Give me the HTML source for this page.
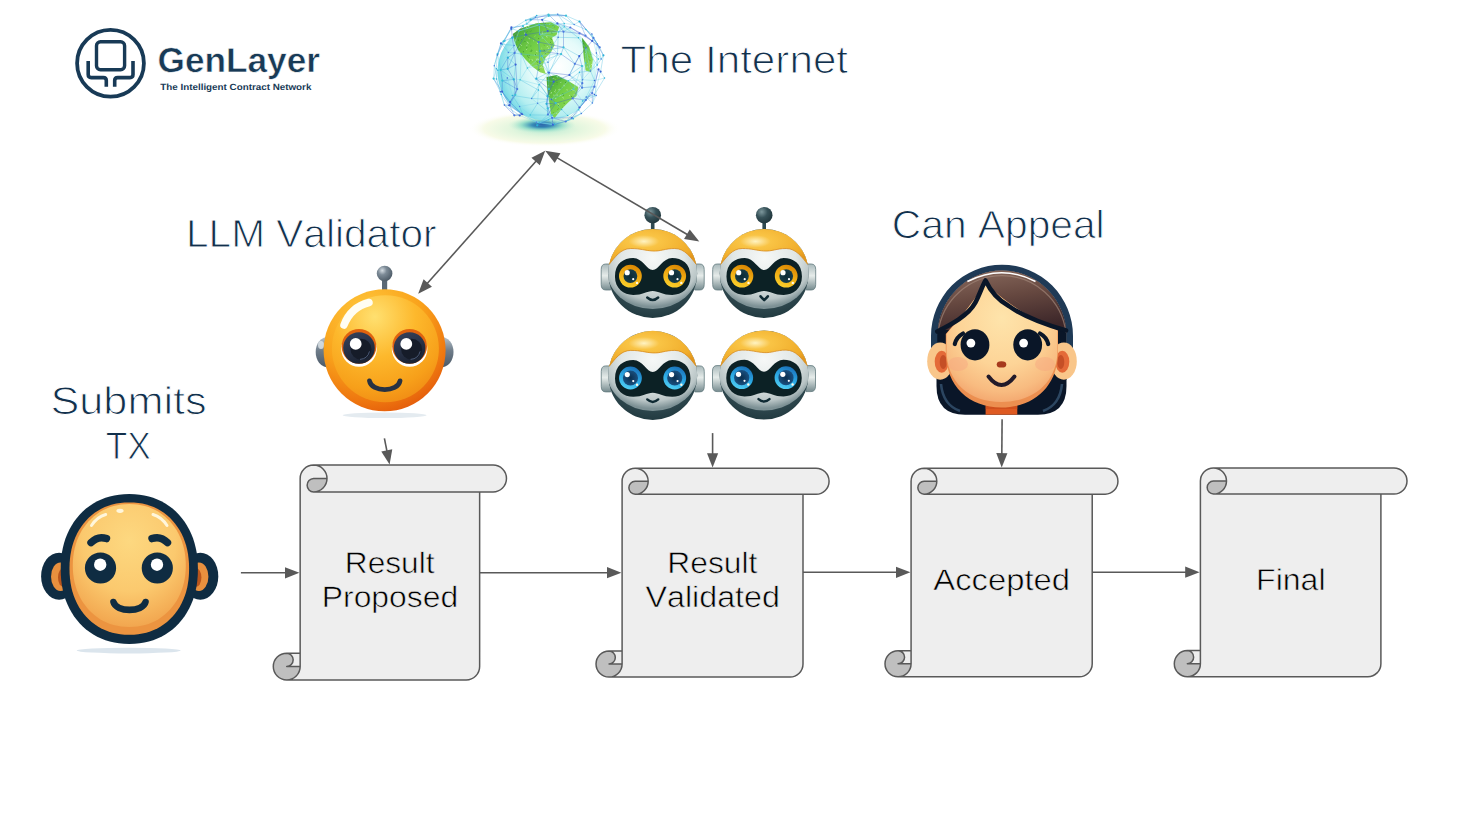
<!DOCTYPE html>
<html><head><meta charset="utf-8"><style>
html,body{margin:0;padding:0;background:#fff;width:1465px;height:824px;overflow:hidden}
svg{display:block}
text{font-family:"Liberation Sans",sans-serif;font-kerning:none;text-rendering:geometricPrecision}
</style></head><body>
<svg width="1465" height="824" viewBox="0 0 1465 824">
<defs>
<radialGradient id="llmOuter" cx="0.35" cy="0.2" r="0.9">
  <stop offset="0" stop-color="#ffc83c"/><stop offset="0.5" stop-color="#f9a21b"/><stop offset="0.8" stop-color="#ee760f"/><stop offset="1" stop-color="#e0520a"/>
</radialGradient>
<radialGradient id="llmInner" cx="0.4" cy="0.2" r="0.85">
  <stop offset="0" stop-color="#ffe070"/><stop offset="0.45" stop-color="#fdb82c"/><stop offset="0.8" stop-color="#f7a01a"/><stop offset="1" stop-color="#f08a14"/>
</radialGradient>
<linearGradient id="llmPupil" x1="0.3" y1="0" x2="0.7" y2="1">
  <stop offset="0" stop-color="#34405a"/><stop offset="1" stop-color="#1a2130"/>
</linearGradient>
<linearGradient id="gray" x1="0" y1="0" x2="0" y2="1">
  <stop offset="0" stop-color="#b9c4cd"/><stop offset="0.45" stop-color="#6f7d8a"/><stop offset="1" stop-color="#4a5866"/>
</linearGradient>
<radialGradient id="ballG" cx="0.35" cy="0.3" r="0.7">
  <stop offset="0" stop-color="#d5dde3"/><stop offset="0.4" stop-color="#7d8b97"/><stop offset="1" stop-color="#4f5d69"/>
</radialGradient>
<radialGradient id="tealBall" cx="0.35" cy="0.3" r="0.7">
  <stop offset="0" stop-color="#7d979c"/><stop offset="0.5" stop-color="#365158"/><stop offset="1" stop-color="#22383e"/>
</radialGradient>
<clipPath id="headClip"><circle cx="0" cy="0" r="44.5"/></clipPath>
<radialGradient id="vHead" cx="0.5" cy="0.3" r="0.75">
  <stop offset="0" stop-color="#6c8289"/><stop offset="0.6" stop-color="#3b555c"/><stop offset="1" stop-color="#1d353b"/>
</radialGradient>
<radialGradient id="vPlate" cx="0.5" cy="0.35" r="0.62">
  <stop offset="0" stop-color="#f6f8f7"/><stop offset="0.55" stop-color="#e1e7e6"/><stop offset="0.85" stop-color="#b9c5c6"/><stop offset="1" stop-color="#7d9195"/>
</radialGradient>
<radialGradient id="vCap" cx="0.4" cy="0.35" r="0.7">
  <stop offset="0" stop-color="#fff3c2"/><stop offset="0.25" stop-color="#f9c445"/><stop offset="0.8" stop-color="#f0ac2a"/><stop offset="1" stop-color="#e2961d"/>
</radialGradient>
<linearGradient id="vEar" x1="0" y1="0" x2="0" y2="1">
  <stop offset="0" stop-color="#a9b9bb"/><stop offset="0.45" stop-color="#e6ecea"/><stop offset="1" stop-color="#768b8f"/>
</linearGradient>
<linearGradient id="eyeY" x1="0.7" y1="0" x2="0.3" y2="1">
  <stop offset="0" stop-color="#d88400"/><stop offset="0.5" stop-color="#f1ad14"/><stop offset="1" stop-color="#fbd12c"/>
</linearGradient>
<linearGradient id="eyeB" x1="0.7" y1="0" x2="0.3" y2="1">
  <stop offset="0" stop-color="#1a6fb8"/><stop offset="0.5" stop-color="#2aa6e2"/><stop offset="1" stop-color="#52d0f4"/>
</linearGradient>
<radialGradient id="pupilY" cx="0.5" cy="0.5" r="0.5">
  <stop offset="0" stop-color="#0c2a36"/><stop offset="1" stop-color="#173c48"/>
</radialGradient>
<radialGradient id="pupilB" cx="0.5" cy="0.5" r="0.5">
  <stop offset="0" stop-color="#0b2f4f"/><stop offset="1" stop-color="#1a5080"/>
</radialGradient>
<radialGradient id="userSkin" cx="0.5" cy="0.3" r="0.75">
  <stop offset="0" stop-color="#fdd880"/><stop offset="0.55" stop-color="#fbc96e"/><stop offset="0.85" stop-color="#f4ae56"/><stop offset="1" stop-color="#f0a04a"/>
</radialGradient>
<radialGradient id="girlSkin" cx="0.5" cy="0.3" r="0.72">
  <stop offset="0" stop-color="#fee4ab"/><stop offset="0.55" stop-color="#fdd497"/><stop offset="0.85" stop-color="#f8bb80"/><stop offset="1" stop-color="#f3a66e"/>
</radialGradient>
<linearGradient id="girlHair" x1="0" y1="0" x2="0.3" y2="1">
  <stop offset="0" stop-color="#8c6d60"/><stop offset="0.5" stop-color="#664840"/><stop offset="1" stop-color="#3c2629"/>
</linearGradient>
<radialGradient id="girlEar" cx="0.5" cy="0.5" r="0.5">
  <stop offset="0" stop-color="#e26f3c"/><stop offset="0.55" stop-color="#f0a066"/><stop offset="1" stop-color="#f9c98a"/>
</radialGradient>
<radialGradient id="globeG" cx="0.62" cy="0.45" r="0.62">
  <stop offset="0" stop-color="#ffffff"/><stop offset="0.45" stop-color="#e6fbfa"/><stop offset="0.8" stop-color="#b4eef0"/><stop offset="1" stop-color="#74d9e6"/>
</radialGradient>
<radialGradient id="glow" cx="0.5" cy="0.5" r="0.5">
  <stop offset="0" stop-color="#b8ead2"/><stop offset="0.45" stop-color="#e3f6de"/><stop offset="0.8" stop-color="#f8fbe8"/><stop offset="1" stop-color="#ffffff" stop-opacity="0"/>
</radialGradient>
<radialGradient id="glowCore" cx="0.5" cy="0.5" r="0.5">
  <stop offset="0" stop-color="#24509e"/><stop offset="0.3" stop-color="#3a8fb8"/><stop offset="0.6" stop-color="#86d9c6" stop-opacity="0.8"/><stop offset="1" stop-color="#c8f0d8" stop-opacity="0"/>
</radialGradient>
<linearGradient id="landG" x1="0" y1="0" x2="1" y2="1">
  <stop offset="0" stop-color="#3f9f32"/><stop offset="0.45" stop-color="#74cf48"/><stop offset="1" stop-color="#a0e060"/>
</linearGradient>
</defs><ellipse cx="544.6" cy="128.8" rx="76" ry="18" fill="url(#glow)"/><ellipse cx="542" cy="125" rx="34" ry="8.5" fill="url(#glowCore)"/><circle cx="546.5" cy="71.5" r="49" fill="url(#globeG)"/><g fill="url(#landG)"><path d="M512.8,34.1 L520,28.7 L536.4,23.2 L551,22.3 L559.2,26.8 L556.5,35 L552,37.8 L554.6,45 L551,52.3 L545.5,57.8 L542.8,65 L545.5,73.3 L549.2,75.1 L540.1,72.3 L532.8,66.9 L525.5,59.6 L518.2,50.5 L514.6,41.4 Z"/><path d="M546.5,76.9 L556.5,75.1 L569.2,81.4 L578.3,86.9 L576.5,96 L569.2,101.5 L561.9,108.7 L554.6,117.9 L551,114.2 L549.2,101.5 L547.4,90.5 Z"/><path d="M582,37.8 L589.2,46.9 L592.9,59.6 L591,72.3 L585.6,70.5 L583.8,57.8 Z"/></g><defs><clipPath id="landClip"><path d="M512.8,34.1 L520,28.7 L536.4,23.2 L551,22.3 L559.2,26.8 L556.5,35 L552,37.8 L554.6,45 L551,52.3 L545.5,57.8 L542.8,65 L545.5,73.3 L549.2,75.1 L540.1,72.3 L532.8,66.9 L525.5,59.6 L518.2,50.5 L514.6,41.4 Z"/><path d="M546.5,76.9 L556.5,75.1 L569.2,81.4 L578.3,86.9 L576.5,96 L569.2,101.5 L561.9,108.7 L554.6,117.9 L551,114.2 L549.2,101.5 L547.4,90.5 Z"/><path d="M582,37.8 L589.2,46.9 L592.9,59.6 L591,72.3 L585.6,70.5 L583.8,57.8 Z"/></clipPath></defs><path d="M549.1,75.7l1.3,-0.1M553.6,78.4l-0.9,0.0M563.7,98.1l-1.2,-0.6M519.4,99.7l0.6,-1.4M592.5,114.6l0.5,0.3M524.9,23.4l0.1,-1.3M527.6,45.2l-1.4,-0.1M548.1,102.9l0.1,0.4M553.0,85.6l-0.1,-0.7M593.8,117.6l1.0,0.6M537.9,44.0l-0.6,-1.3M574.8,60.4l1.0,-0.3M590.6,103.3l-1.5,-0.9M586.6,67.1l1.4,-0.3M518.0,82.4l0.8,-0.7M519.1,53.9l1.4,0.8M521.7,45.7l-1.2,-1.3M577.4,39.1l0.2,-0.2M527.6,92.3l-1.1,0.4M521.6,62.4l-0.9,-0.7M591.6,99.1l-0.6,1.2M529.3,59.9l1.1,0.4M520.2,117.0l-0.9,-0.7M575.4,53.6l-0.6,-1.3M519.4,77.9l-0.8,0.3M542.5,65.5l1.4,-0.0M559.1,105.2l-1.0,-1.0M586.5,100.5l-0.8,-0.9M572.6,112.3l-0.9,1.4M584.3,79.9l-0.2,-1.2M515.2,114.4l-0.8,0.6M533.1,101.1l0.3,-0.6M526.4,91.2l-1.3,-0.8M557.9,103.8l0.3,-0.7M587.2,41.6l-1.5,-0.7M548.5,27.8l-1.0,-0.4M558.9,34.6l-0.4,1.2M592.4,85.1l0.6,0.3M523.5,25.4l-1.4,1.2M569.5,114.4l-1.4,0.4M551.5,92.1l-0.5,1.5M518.2,74.4l0.7,1.2M572.4,89.6l0.9,1.2M540.9,87.8l1.2,1.1M546.2,97.9l1.1,0.2M563.2,58.7l0.2,0.3M518.6,83.4l1.5,1.1M571.7,59.3l0.7,0.2M548.1,102.5l-1.2,0.8M514.4,79.7l-0.1,-0.8M569.3,69.7l0.3,1.3M533.0,23.1l-0.6,0.5M528.6,38.3l1.2,0.5M548.2,107.6l-0.5,0.5M528.3,63.4l0.9,1.2M584.2,58.9l0.2,-0.6M523.2,69.7l1.0,1.0M570.3,113.2l-0.7,-1.0M549.0,48.4l-0.9,-0.3M563.3,69.4l-0.6,1.0M592.5,65.4l-1.3,-1.4M583.6,26.0l0.6,0.2M537.3,98.0l-1.4,-1.1M549.3,24.4l1.0,-0.8M523.6,26.5l0.4,-0.2M563.7,84.9l0.9,1.4M568.1,41.1l-0.1,-1.0M512.9,67.3l0.6,-1.0M534.3,55.2l0.6,0.1M562.4,94.6l-0.3,0.9M586.3,30.4l1.3,0.7M522.7,65.5l0.4,1.2M542.9,76.6l1.1,0.9M589.4,66.5l0.5,-0.9M571.2,100.6l0.4,0.7M529.5,108.4l1.4,1.4M556.0,97.9l-0.5,1.2M582.2,55.5l-1.3,-0.2M557.1,95.8l-0.0,-1.4M578.3,28.1l0.9,-1.0M539.5,97.6l-1.1,-1.1M554.4,91.5l1.0,0.6M589.6,69.3l1.3,-1.2M530.2,72.6l-0.6,0.7M564.4,72.2l1.0,0.2M537.6,58.6l1.0,1.2M529.1,103.7l1.4,0.1M559.0,41.3l0.1,0.0M561.6,24.7l1.4,0.0M544.8,98.9l0.2,-0.0M568.7,28.3l0.1,-0.3M590.5,110.6l-0.7,-0.1M522.4,63.6l0.9,1.2M551.1,52.5l-0.9,0.4M587.9,34.4l0.8,-1.4M527.9,43.8l0.6,-0.5M541.1,81.5l-1.2,0.7M522.1,71.0l-0.7,-0.9M555.5,63.9l-0.4,-0.3M555.4,37.3l-0.9,0.4M564.4,72.8l1.1,0.3M582.3,44.3l0.7,0.9M586.0,52.3l-0.6,1.3M529.9,117.8l1.2,-1.1M531.6,91.8l-0.7,-1.2M580.2,62.5l0.9,-1.1M545.0,87.8l-1.4,-0.9M568.0,109.5l1.4,-1.2M553.5,94.8l0.0,0.6M527.5,28.8l-1.2,-1.4M557.2,71.4l0.2,-1.1M527.1,41.6l1.0,1.5M588.0,31.1l-1.3,1.4M549.9,95.4l-0.5,-0.1M554.3,63.3l0.3,-1.5M569.5,103.0l-1.0,-0.1M572.6,60.9l-0.9,-1.0M554.0,23.5l1.2,0.9M569.8,104.6l0.4,-0.3M561.2,70.4l1.4,0.9M533.2,109.5l0.7,0.8M578.8,60.9l1.2,1.1M569.0,95.7l0.8,-0.3M571.3,28.8l-0.5,-0.1M512.9,56.1l0.4,0.4M531.0,112.7l0.5,-0.5M566.1,76.7l0.1,-0.3M594.0,83.7l0.6,0.8M592.4,24.2l0.3,0.7M533.0,60.5l-1.3,-0.9M542.8,31.5l-0.7,1.2M557.1,70.8l1.4,0.2M593.6,83.2l0.9,-1.3M561.0,94.9l-1.4,1.3M525.1,67.3l-1.0,-0.0M562.1,27.6l1.3,-0.2M555.2,79.4l-0.4,-0.6M565.7,75.8l-0.6,0.6M536.3,23.3l-0.8,-1.4M524.8,94.4l-0.3,1.2M573.4,26.8l1.5,1.3M518.0,108.9l-0.2,-0.1M591.8,45.4l0.1,1.3M571.3,67.0l1.4,1.0M561.5,33.0l0.4,-0.1M528.7,27.0l0.1,-1.1M548.3,86.1l-0.1,-0.7M559.7,62.3l0.8,0.1M593.8,113.5l0.7,-0.8M521.3,107.7l0.9,0.4M541.5,48.1l0.6,0.2M560.5,82.8l0.8,-0.9M532.4,116.1l1.2,1.1M515.2,27.8l-0.7,-0.2M563.1,31.8l0.1,-1.3M519.1,86.9l0.2,0.4M542.6,67.9l-0.9,-0.5M573.1,102.5l-1.3,-1.1M578.4,81.9l0.8,-0.9M546.8,46.8l0.9,-0.4M565.6,117.0l-0.5,0.1M573.2,110.4l-0.2,-0.4M520.0,106.0l-1.3,-1.3M558.3,68.5l0.6,-0.6M575.6,29.3l-0.9,0.5M518.7,51.2l0.7,0.6M535.2,35.7l-0.4,0.7M542.0,33.3l0.6,0.2M587.3,112.2l1.2,-0.2M577.9,51.3l-0.5,-0.3M588.6,107.9l-0.8,-0.4M542.0,56.9l-0.3,-0.3M528.0,76.1l0.9,0.1M580.6,76.0l-1.0,0.8M584.2,49.0l-1.4,0.0M556.6,76.5l1.4,0.5M578.0,28.1l0.1,0.9M518.9,29.8l0.7,1.2M518.9,82.9l-1.1,0.7M565.2,45.6l-0.8,0.8M554.8,95.4l-0.3,-0.5M591.4,86.5l-0.0,0.1M571.1,90.0l1.2,-0.3M579.8,86.0l1.1,0.9M580.4,107.3l1.4,0.4M555.0,90.2l0.9,-0.2M546.5,36.0l0.7,1.5M542.8,38.1l-0.9,-0.2M535.9,115.1l-1.3,-0.6M521.4,84.2l0.8,-1.0M517.1,66.0l0.3,1.2M515.0,32.4l-0.9,-0.8M531.3,90.9l0.3,-0.8M527.2,49.0l-1.0,0.8M537.6,74.6l1.0,-0.1M533.4,107.2l1.2,-0.5M556.9,113.9l-0.1,-0.8M516.1,113.0l0.9,-0.3M555.3,71.5l-0.7,1.5M565.9,44.8l-1.5,-0.1M542.5,98.5l0.6,0.3M524.9,37.1l-0.5,-0.7M583.3,71.5l0.4,1.5M533.9,73.3l-1.0,0.8M512.1,100.9l1.0,1.0M518.8,47.9l0.6,-1.2M551.4,67.0l1.4,0.3M582.3,51.1l0.9,-0.2M587.2,30.7l1.0,-0.9M556.6,72.5l-1.0,1.0M537.5,51.8l-1.3,-0.6M550.3,90.7l-0.4,0.6M520.7,59.8l-0.1,1.4M580.0,84.8l-1.5,-0.4M570.2,44.8l0.2,-0.1M512.9,117.2l0.9,-0.9M562.5,49.9l-0.4,0.1M536.5,54.4l-0.3,0.5M533.0,41.2l0.7,-0.5M589.5,76.0l0.7,-0.5M579.8,30.9l-1.1,-1.2M567.6,90.0l-1.0,-0.3M580.6,78.9l-1.2,-0.8M524.9,33.9l-0.3,-1.3M587.5,63.0l0.0,0.4M574.9,100.8l-0.3,-0.5M545.8,23.5l-0.3,0.6M592.5,97.8l0.5,0.3M513.5,53.8l-0.5,0.5M520.7,58.3l0.0,0.9M579.7,80.7l-1.0,0.8M586.0,74.6l-0.4,0.0M523.6,90.5l1.5,0.0M570.7,102.2l-0.9,1.3M563.4,41.0l-1.3,-0.8M559.3,88.9l-0.5,1.3M541.6,66.5l-1.1,1.4M523.1,108.8l0.1,0.2M557.9,47.4l1.2,1.5M579.0,79.7l-1.1,1.0M535.7,108.1l-0.8,0.2M580.1,39.8l0.1,-1.3M514.6,39.3l1.5,1.3M566.0,51.5l0.5,0.7M543.3,78.8l0.9,-1.5M528.4,66.9l-1.1,-0.3M558.7,38.7l0.1,-0.7M558.6,53.9l0.4,-1.4M567.0,35.9l1.4,0.3M550.5,61.5l0.4,0.6M574.2,94.2l-0.0,1.5M580.7,104.1l-0.3,-0.2M558.4,108.9l0.1,0.1M547.4,108.8l-0.5,-1.3M571.5,108.4l0.7,0.3M573.7,51.3l0.3,-1.3M522.2,64.9l0.0,-0.3M516.3,88.7l0.1,-0.8M537.1,60.0l-0.8,-1.3M586.7,114.8l0.5,1.1" stroke="#e8ffe0" stroke-width="0.7" opacity="0.8" clip-path="url(#landClip)"/><path d="M546.6,99.3l-0.7,0.6M558.5,108.7l-1.0,0.7M522.2,73.6l1.1,-1.2M532.0,50.7l-0.4,-1.0M585.4,100.3l-0.2,-0.3M560.0,26.4l-1.1,1.0M537.2,69.8l1.0,1.1M550.8,41.8l-0.5,1.0M585.5,40.8l0.8,-0.4M550.7,38.5l0.9,1.2M528.6,82.7l-0.7,0.9M516.1,32.2l0.5,-0.4M585.8,105.5l0.5,-0.9M569.1,112.0l-0.1,-1.0M530.3,51.5l0.5,-0.7M526.8,44.6l0.4,0.7M542.5,85.6l0.9,0.2M530.8,50.9l1.0,0.4M534.7,83.4l-1.0,1.2M548.1,72.7l0.1,-1.1M561.2,49.3l-0.6,0.7M519.1,49.4l0.6,-0.6M534.9,74.6l-0.8,1.0M593.0,25.2l-0.1,0.6M543.5,111.2l-0.0,-0.8M557.6,83.9l-0.3,0.4M576.2,71.6l0.0,0.8M568.1,72.0l1.1,-0.8M575.9,37.9l0.3,-0.6M548.1,96.2l0.7,0.7M531.3,69.0l-0.7,0.2M552.9,25.4l0.2,0.5M559.0,105.8l-0.8,-0.8M513.5,69.6l-0.2,-0.1M533.6,98.7l-1.0,1.0M558.6,74.2l0.7,-0.6M524.0,51.9l-1.1,-0.4M562.9,72.4l-0.6,0.2M519.3,100.8l-0.8,-0.6M525.1,88.3l0.8,0.7M517.0,61.4l-0.3,-0.7M591.6,26.0l-0.0,0.6M592.9,35.9l-0.1,0.6M515.2,45.1l0.9,-0.9M544.2,50.6l-0.2,-1.0M514.8,117.6l0.6,0.6M530.8,46.3l0.1,-0.6M549.8,111.5l-0.3,-0.4M592.5,80.6l-1.1,-0.2M565.3,27.6l-0.4,0.5M582.9,78.7l0.9,-0.1M544.2,102.9l-0.3,0.7M529.7,55.4l-0.8,0.1M525.4,41.5l-0.7,-0.1M537.3,64.9l1.2,0.4M582.7,41.6l-0.3,-1.0M568.7,56.8l-0.5,-1.2M526.9,47.2l-0.3,1.0M570.6,47.8l-0.3,-0.8M588.8,56.5l0.6,0.5M586.4,24.0l-0.4,-0.3M518.8,106.7l-0.4,0.6M554.6,27.3l-0.3,-0.6M515.3,36.5l0.2,-1.1M537.6,62.7l0.1,-0.9M569.9,47.0l0.5,0.4M524.1,41.7l-0.5,0.5M545.2,59.1l0.9,-0.7M536.0,55.1l-0.7,-1.1M514.0,82.5l0.2,0.7M592.0,50.6l0.4,1.0M529.7,88.2l0.4,1.1M583.2,44.5l0.3,-1.0M547.1,59.7l-1.1,-0.3M538.9,69.7l-0.5,-0.8M545.0,67.6l-0.8,0.4M531.7,30.9l-0.4,-0.2M524.4,77.9l0.5,0.1M569.4,24.2l-0.3,-0.3M517.2,60.8l-1.1,-0.0M560.0,67.0l-0.4,-0.6M513.9,55.3l0.9,0.2M533.5,86.1l-0.8,-0.1M562.5,113.6l-0.3,0.2M589.3,96.1l0.3,0.3M545.7,61.9l-0.5,0.8M584.1,58.7l1.0,-1.1M523.1,70.7l-0.5,-0.3M592.1,36.4l-0.7,-0.7M567.8,44.5l-1.2,0.1M544.3,45.0l-0.0,0.4M556.9,81.9l0.1,0.8M591.4,54.0l-0.4,0.9M537.7,90.7l0.5,0.4M591.0,101.1l-0.8,0.3M552.2,76.1l-0.3,-0.5M573.4,73.3l-0.6,-0.6M538.6,39.1l0.0,-0.9M517.2,28.6l-1.0,0.5M521.2,65.4l0.7,-0.0M525.3,105.2l0.9,-1.1M532.8,70.7l0.7,-0.3M570.7,46.2l0.5,-0.4M539.4,94.9l0.8,0.8M558.5,62.4l0.5,0.3M580.1,98.9l-0.9,-0.3M566.9,44.2l-0.8,-1.2M560.0,112.3l1.1,-0.9M568.4,62.3l0.3,-0.2M588.5,116.9l-1.1,0.5M521.7,26.1l-0.5,0.6M593.5,33.5l-0.4,-1.1M556.5,68.4l-0.3,-0.5M577.6,102.5l-0.5,-0.3M562.7,95.5l1.2,-0.3M568.9,74.4l0.7,-0.8M526.4,32.3l1.0,-0.6M552.0,33.6l-0.4,-1.2M558.4,35.8l0.3,-0.5M530.7,68.3l-0.3,-0.6M516.2,28.2l0.9,-0.5M518.4,39.5l-0.0,1.2M528.6,105.3l-0.0,-0.2M578.2,60.0l-1.1,0.1M565.9,81.8l-0.5,1.1M582.9,117.5l-0.1,0.8M571.4,38.9l-1.1,-0.8M521.7,29.2l-0.3,0.6M537.4,71.4l-1.2,-0.7M590.7,23.1l0.1,0.7M577.0,92.6l-0.2,0.7M579.9,95.7l1.2,-1.0M589.9,60.6l0.5,-0.6M586.6,24.3l0.2,-0.7M543.8,57.5l0.4,0.7M541.9,83.3l-0.4,-0.5M586.2,52.9l-1.0,-0.4M572.8,42.3l0.6,0.1M567.8,39.0l-0.9,-0.9M540.7,63.4l-1.2,0.0M545.1,52.9l0.1,1.1M528.8,106.5l-0.4,0.6M520.9,116.8l-0.2,1.1M530.0,61.2l0.5,-0.8M534.4,87.0l1.1,-0.4M527.0,56.3l1.2,-0.8M564.0,58.3l0.3,-0.7M562.5,107.2l0.9,0.3M553.4,76.5l-0.9,0.8M568.6,65.5l0.4,-0.2M543.5,44.1l0.2,0.2M554.2,25.1l0.3,-0.1M560.7,79.1l1.0,-0.8M550.4,117.3l0.6,-0.4M572.4,117.0l-0.2,0.9M522.4,117.0l-0.0,-0.6M580.9,84.3l1.1,0.8M577.4,71.1l1.2,-1.0M583.3,90.3l-0.6,0.7M549.2,73.5l0.9,-0.7M534.9,83.8l-1.0,0.1M576.5,69.1l-0.6,0.7M582.1,96.0l0.1,1.0M577.3,36.6l-0.3,-1.0M515.0,55.2l0.9,0.8M521.6,39.4l-0.3,0.8M562.6,108.6l-1.0,1.2M529.0,82.4l0.9,0.5M528.2,86.2l-0.2,-1.2M539.8,52.3l0.3,-0.5M561.5,88.7l-0.8,-0.9M568.9,66.8l-0.9,-0.9M589.2,80.6l-0.3,-0.7M593.6,88.4l0.6,-0.3M537.4,61.2l-0.8,0.3M546.8,100.7l-0.2,-0.1M553.5,112.4l-0.4,0.5M531.3,77.6l-0.5,0.9M535.5,104.0l0.4,-0.1M588.6,59.2l0.6,0.2M548.8,28.2l-0.2,-0.5M548.2,113.6l-0.5,0.5M567.1,45.5l-0.2,-0.9M585.4,46.2l-0.2,-0.4M579.3,103.6l0.2,0.1M520.2,108.1l-1.0,-0.3M542.7,91.4l0.4,-0.4M585.6,113.2l-1.1,0.3M550.5,56.7l-0.1,-0.4M567.0,80.1l1.1,1.1M593.4,59.9l0.8,0.4M569.5,117.8l-1.0,-0.1M544.9,85.0l-0.7,1.2M529.2,57.5l-0.9,-0.3M572.8,30.0l-0.8,0.4M563.1,93.2l-0.6,0.7M571.9,96.5l-0.9,-0.1M513.3,104.5l1.1,0.9M514.0,55.7l0.1,0.1M521.1,97.8l-0.5,0.0M522.2,76.5l-0.9,-1.0M554.0,50.2l0.7,-0.6M545.9,27.2l-0.7,-0.1M557.8,66.1l0.8,-0.9M581.7,36.9l1.1,0.1M545.3,80.8l0.9,1.1M545.9,23.0l-0.8,0.8M572.2,90.4l-0.8,0.1M514.3,32.6l-0.5,1.1M564.7,103.4l-1.1,-0.2M518.4,47.0l-0.9,1.0M539.0,68.9l0.4,0.9M589.6,76.5l0.0,1.0M544.3,50.7l0.6,-0.6M542.2,63.2l-0.1,-0.3M547.3,65.3l-1.1,0.8M517.1,72.7l0.1,-0.2M530.3,31.5l-0.3,-0.4M551.7,44.1l0.6,-0.0M512.7,61.0l1.1,-1.2" stroke="#2a7f28" stroke-width="0.9" opacity="0.7" clip-path="url(#landClip)"/><path d="M548.5,14.5L548.8,15.8M548.5,14.5L566.0,15.7M542.2,19.8L530.6,19.7M542.2,19.8L547.7,31.1M548.8,15.8L535.6,17.2M557.4,23.4L563.5,31.7M530.6,19.7L535.6,17.2M530.6,19.7L525.7,20.3M547.7,31.1L563.5,31.7M547.7,31.1L525.9,34.7M570.3,27.5L579.5,33.4M570.3,27.5L585.5,35.7M523.0,26.1L512.3,37.7M563.5,31.7L563.5,47.3M563.5,31.7L579.5,33.4M579.5,21.5L593.4,37.9M525.9,34.7L538.6,42.1M525.9,34.7L514.6,52.9M579.5,33.4L585.5,35.7M579.5,33.4L592.2,40.9M511.4,27.4L512.3,37.7M538.6,42.1L563.5,47.3M585.5,35.7L592.2,40.9M585.5,35.7L599.7,47.3M512.3,37.7L514.6,52.9M540.0,51.0L561.1,54.1M592.2,40.9L599.7,47.3M592.2,40.9L593.4,37.9M592.2,40.9L579.3,56.1M504.5,40.9L497.6,54.0M561.1,54.1L574.8,63.8M593.4,37.9L603.4,55.3M514.6,52.9L515.6,64.6M579.3,56.1L569.4,75.0M599.7,47.3L597.3,43.9M507.8,57.7L507.7,68.8M574.8,63.8L582.0,66.0M515.6,64.6L517.2,89.1M582.0,66.0L582.3,83.2M548.4,72.6L569.4,75.0M507.7,68.8L513.8,79.4M569.4,75.0L553.7,81.7M536.3,78.7L548.9,89.0M598.5,69.4L592.2,93.0M500.6,69.9L502.3,80.6M553.7,81.7L547.5,96.2M513.8,79.4L517.2,89.1M513.8,79.4L515.3,94.8M582.3,83.2L582.1,87.7M582.3,83.2L572.6,98.3M548.9,89.0L547.5,96.2M502.3,80.6L502.1,91.7M517.2,89.1L515.3,94.8M517.2,89.1L510.1,102.1M547.5,96.2L546.5,103.8M547.5,96.2L555.8,103.1M515.3,94.8L510.1,102.1M572.6,98.3L555.8,103.1M572.6,98.3L579.5,107.5M572.6,98.3L585.8,100.1M546.5,103.8L555.8,103.1M592.2,93.0L585.8,100.1M592.2,93.0L592.4,103.1M502.1,91.7L510.1,102.1M555.8,103.1L547.8,108.4M555.8,103.1L547.9,114.5M510.1,102.1L509.6,105.2M510.1,102.1L521.6,113.8M585.8,100.1L579.5,107.5M585.8,100.1L571.8,117.9M547.8,108.4L547.9,114.5M547.8,108.4L552.1,117.8M509.6,105.2L521.6,113.8M509.6,105.2L504.4,105.1M521.6,113.8L514.3,115.3M504.4,105.1L514.3,115.3M571.8,117.9L565.7,121.5M571.8,117.9L552.1,117.8M552.1,117.8L565.7,121.5M552.1,117.8L552.9,124.7M565.7,121.5L552.9,124.7" stroke="#3358cc" stroke-width="0.5" fill="none" opacity="0.7"/><path d="M548.5,14.5L542.2,19.8M542.2,19.8L557.4,23.4M542.2,19.8L548.8,15.8M548.8,15.8L557.7,14.2M557.4,23.4L547.7,31.1M530.6,19.7L523.0,26.1M566.0,15.7L579.5,21.5M566.0,15.7L557.7,14.2M566.0,15.7L574.2,24.6M547.7,31.1L538.6,42.1M535.6,17.2L525.7,20.3M535.6,17.2L536.7,15.5M535.6,17.2L526.8,24.0M570.3,27.5L563.5,31.7M557.7,14.2L564.3,23.5M557.7,14.2L574.2,24.6M525.7,20.3L526.8,24.0M525.7,20.3L511.5,29.5M525.7,20.3L536.7,15.5M536.7,15.5L526.8,24.0M574.2,24.6L585.9,29.5M538.6,42.1L540.0,51.0M526.8,24.0L511.1,28.5M526.8,24.0L539.2,25.0M564.3,23.5L564.3,26.8M564.3,23.5L539.2,25.0M563.5,47.3L579.3,56.1M563.5,47.3L574.8,63.8M585.9,29.5L593.4,37.9M585.9,29.5L591.9,34.0M585.9,29.5L597.3,43.9M540.0,51.0L539.7,61.8M540.0,51.0L548.4,72.6M539.2,25.0L539.7,34.2M504.5,40.9L501.0,43.4M564.3,26.8L558.7,31.9M564.3,26.8L578.5,37.8M561.1,54.1L548.4,72.6M561.1,54.1L539.7,61.8M511.1,28.5L518.9,31.0M511.1,28.5L502.0,44.3M593.4,37.9L597.3,43.9M593.4,37.9L591.9,34.0M501.0,43.4L497.3,55.1M539.7,61.8L548.4,72.6M599.7,47.3L603.4,55.3M507.8,57.7L515.6,64.6M558.7,31.9L558.1,37.3M574.8,63.8L569.4,75.0M503.2,41.3L502.0,44.3M597.3,43.9L596.4,53.1M597.3,43.9L601.2,59.0M515.6,64.6L513.8,79.4M582.0,66.0L569.4,75.0M582.0,66.0L582.1,87.7M497.6,54.0L494.3,65.8M497.6,54.0L500.6,69.9M578.5,37.8L585.7,47.9M578.5,37.8L558.1,37.3M548.4,72.6L536.3,78.7M548.4,72.6L548.9,89.0M502.0,44.3L508.4,52.4M502.0,44.3L514.2,45.4M603.4,55.3L600.6,71.6M603.4,55.3L601.2,59.0M558.1,37.3L551.6,47.2M558.1,37.3L557.5,53.7M569.4,75.0L582.3,83.2M497.3,55.1L494.3,65.8M497.3,55.1L496.3,68.7M596.4,53.1L597.2,65.1M536.3,78.7L553.7,81.7M536.3,78.7L547.5,96.2M514.2,45.4L508.4,52.4M500.6,69.9L513.8,79.4M585.7,47.9L598.3,59.0M585.7,47.9L597.2,65.1M508.4,52.4L521.2,53.9M601.2,59.0L597.2,65.1M551.6,47.2L548.0,62.3M521.2,53.9L527.4,68.1M521.2,53.9L541.9,56.1M557.5,53.7L549.4,72.8M582.1,87.7L572.6,98.3M496.3,68.7L496.6,79.0M496.3,68.7L497.8,70.2M496.3,68.7L493.6,78.6M597.2,65.1L590.5,70.9M541.9,56.1L548.0,62.3M594.4,86.7L592.2,93.0M493.6,78.6L496.6,79.0M493.6,78.6L500.3,91.7M585.7,62.9L590.5,70.9M604.5,78.1L594.5,94.6M548.0,62.3L549.4,72.8M496.6,79.0L500.3,91.7M590.5,70.9L579.5,72.3M590.5,70.9L594.5,80.6M546.5,103.8L547.9,114.5M502.1,91.7L500.3,91.7M579.5,72.3L568.4,80.8M549.4,72.8L539.1,84.7M549.4,72.8L568.4,80.8M500.3,91.7L501.3,94.6M520.1,79.8L538.4,90.1M594.5,94.6L592.4,103.1M594.5,94.6L586.2,97.1M568.4,80.8L573.5,89.1M579.5,107.5L571.8,117.9M579.5,107.5L565.7,121.5M501.3,94.6L508.9,105.6M596.2,95.4L582.6,101.1M521.6,113.8L519.7,115.5M539.1,84.7L538.4,90.1M539.1,84.7L531.6,98.4M539.1,84.7L551.4,99.6M592.4,103.1L581.4,113.4M592.4,103.1L586.2,97.1M504.4,105.1L519.7,115.5M573.5,89.1L551.4,99.6M547.9,114.5L552.1,117.8M547.9,114.5L537.2,125.3M512.3,95.4L519.6,106.5M512.3,95.4L531.6,98.4M586.2,97.1L582.6,101.1M538.4,90.1L531.6,98.4M571.8,117.9L581.4,113.4M508.9,105.6L522.6,114.5M531.6,98.4L551.4,99.6M581.4,113.4L565.7,121.5M581.4,113.4L578.7,109.7M551.4,99.6L561.6,109.4M565.7,121.5L573.3,118.7M519.6,106.5L522.6,114.5M537.2,125.3L536.5,122.2M537.2,125.3L552.9,124.7M537.6,103.3L530.2,114.9M537.6,103.3L552.0,115.2M573.3,118.7L554.5,124.3M522.6,114.5L536.5,122.2M561.6,109.4L567.6,115.6M552.9,124.7L554.5,124.3M530.2,114.9L552.0,115.2M536.5,122.2L554.5,124.3M552.0,115.2L539.2,122.6M539.2,122.6L548.5,119.8" stroke="#4fbfe0" stroke-width="0.5" fill="none" opacity="0.75"/><path d="M557.7,14.2L536.7,15.5M579.5,21.5L574.2,24.6M536.7,15.5L539.2,25.0M574.2,24.6L564.3,23.5M564.3,23.5L558.7,31.9M511.5,29.5L511.1,28.5M511.5,29.5L503.2,41.3M539.2,25.0L539.4,24.6M539.2,25.0L518.9,31.0M511.1,28.5L503.2,41.3M539.4,24.6L539.7,34.2M539.4,24.6L558.7,31.9M539.4,24.6L518.9,31.0M591.9,34.0L597.3,43.9M591.9,34.0L596.4,53.1M518.9,31.0L514.2,45.4M558.7,31.9L539.7,34.2M503.2,41.3L497.3,55.1M503.2,41.3L508.4,52.4M539.7,34.2L558.1,37.3M539.7,34.2L551.6,47.2M502.0,44.3L497.3,55.1M596.4,53.1L601.2,59.0M596.4,53.1L598.3,59.0M514.2,45.4L521.2,53.9M585.7,47.9L585.7,62.9M585.7,47.9L590.5,70.9M508.4,52.4L497.8,70.2M601.2,59.0L598.3,59.0M551.6,47.2L557.5,53.7M551.6,47.2L541.9,56.1M494.3,65.8L496.3,68.7M494.3,65.8L493.6,78.6M494.3,65.8L496.6,79.0M598.3,59.0L597.2,65.1M598.3,59.0L590.5,70.9M521.2,53.9L520.1,79.8M600.6,71.6L604.5,78.1M600.6,71.6L594.5,94.6M557.5,53.7L548.0,62.3M557.5,53.7L541.9,56.1M597.2,65.1L594.5,80.6M541.9,56.1L549.4,72.8M541.9,56.1L527.4,68.1M585.7,62.9L579.5,72.3M585.7,62.9L582.6,79.7M497.8,70.2L507.3,77.9M497.8,70.2L496.6,79.0M604.5,78.1L594.5,80.6M548.0,62.3L527.4,68.1M496.6,79.0L501.3,94.6M590.5,70.9L582.6,79.7M527.4,68.1L520.1,79.8M527.4,68.1L539.1,84.7M579.5,72.3L582.6,79.7M579.5,72.3L573.5,89.1M507.3,77.9L520.1,79.8M507.3,77.9L512.3,95.4M507.3,77.9L501.3,94.6M594.5,80.6L582.6,79.7M594.5,80.6L596.2,95.4M594.5,80.6L586.2,97.1M500.3,91.7L504.4,105.1M582.6,79.7L573.5,89.1M582.6,79.7L568.4,80.8M520.1,79.8L512.3,95.4M520.1,79.8L539.1,84.7M594.5,94.6L596.2,95.4M568.4,80.8L551.4,99.6M501.3,94.6L504.4,105.1M596.2,95.4L586.2,97.1M596.2,95.4L592.4,103.1M504.4,105.1L508.9,105.6M573.5,89.1L582.6,101.1M586.2,97.1L578.7,109.7M538.4,90.1L537.6,103.3M538.4,90.1L551.4,99.6M508.9,105.6L519.6,106.5M582.6,101.1L578.7,109.7M531.6,98.4L537.6,103.3M581.4,113.4L573.3,118.7M519.7,115.5L522.6,114.5M519.7,115.5L536.5,122.2M551.4,99.6L537.6,103.3M519.6,106.5L530.2,114.9M519.6,106.5L537.6,103.3M578.7,109.7L567.6,115.6M578.7,109.7L573.3,118.7M573.3,118.7L567.6,115.6M522.6,114.5L530.2,114.9M522.6,114.5L539.2,122.6M561.6,109.4L552.0,115.2M552.9,124.7L536.5,122.2M530.2,114.9L539.2,122.6M567.6,115.6L554.5,124.3M567.6,115.6L548.5,119.8M536.5,122.2L539.2,122.6M536.5,122.2L548.5,119.8M552.0,115.2L548.5,119.8M554.5,124.3L548.5,119.8M554.5,124.3L539.2,122.6" stroke="#7fd8ea" stroke-width="0.5" fill="none" opacity="0.8"/><path d="M548.5,14.5L557.4,23.4M548.5,14.5L530.6,19.7M548.8,15.8L566.0,15.7M557.4,23.4L570.3,27.5M523.0,26.1L511.4,27.4M523.0,26.1L525.9,34.7M579.5,21.5L585.9,29.5M579.5,21.5L585.5,35.7M525.9,34.7L512.3,37.7M511.4,27.4L504.5,40.9M511.4,27.4L511.5,29.5M538.6,42.1L539.7,61.8M512.3,37.7L504.5,40.9M563.5,47.3L561.1,54.1M563.5,47.3L540.0,51.0M593.4,37.9L599.7,47.3M514.6,52.9L507.8,57.7M514.6,52.9L507.7,68.8M579.3,56.1L582.0,66.0M579.3,56.1L574.8,63.8M501.0,43.4L497.6,54.0M539.7,61.8L536.3,78.7M507.8,57.7L500.6,69.9M515.6,64.6L507.7,68.8M497.6,54.0L497.3,55.1M548.4,72.6L553.7,81.7M507.7,68.8L500.6,69.9M569.4,75.0L582.1,87.7M598.5,69.4L594.4,86.7M598.5,69.4L600.6,71.6M553.7,81.7L548.9,89.0M513.8,79.4L502.3,80.6M548.9,89.0L546.5,103.8M502.3,80.6L517.2,89.1M582.1,87.7L594.4,86.7M594.4,86.7L585.8,100.1M493.6,78.6L502.1,91.7M547.5,96.2L547.8,108.4M515.3,94.8L509.6,105.2M546.5,103.8L547.8,108.4M592.2,93.0L579.5,107.5M592.2,93.0L594.5,94.6M502.1,91.7L509.6,105.2M509.6,105.2L514.3,115.3M514.3,115.3L519.7,115.5M552.1,117.8L537.2,125.3" stroke="#2f7fd8" stroke-width="0.5" fill="none" opacity="0.7"/><circle cx="548.5" cy="14.5" r="1.1" fill="#39c2d8"/><circle cx="542.2" cy="19.8" r="1.1" fill="#3b62d4"/><circle cx="548.8" cy="15.8" r="1.1" fill="#39c2d8"/><circle cx="557.4" cy="23.4" r="1.1" fill="#3b62d4"/><circle cx="530.6" cy="19.7" r="1.1" fill="#2bb0d8"/><circle cx="566.0" cy="15.7" r="1.1" fill="#39c2d8"/><circle cx="547.7" cy="31.1" r="1.1" fill="#3b62d4"/><circle cx="535.6" cy="17.2" r="0.75" fill="#4a7be0"/><circle cx="570.3" cy="27.5" r="1.1" fill="#4a7be0"/><circle cx="523.0" cy="26.1" r="1.1" fill="#39c2d8"/><circle cx="557.7" cy="14.2" r="0.75" fill="#4a7be0"/><circle cx="563.5" cy="31.7" r="1.1" fill="#4a7be0"/><circle cx="525.7" cy="20.3" r="0.75" fill="#39c2d8"/><circle cx="579.5" cy="21.5" r="1.1" fill="#2bb0d8"/><circle cx="525.9" cy="34.7" r="1.1" fill="#3b62d4"/><circle cx="536.7" cy="15.5" r="0.75" fill="#2bb0d8"/><circle cx="579.5" cy="33.4" r="1.1" fill="#4a7be0"/><circle cx="511.4" cy="27.4" r="1.1" fill="#3b62d4"/><circle cx="574.2" cy="24.6" r="0.75" fill="#4a7be0"/><circle cx="538.6" cy="42.1" r="1.1" fill="#4a7be0"/><circle cx="526.8" cy="24.0" r="0.75" fill="#39c2d8"/><circle cx="585.5" cy="35.7" r="1.1" fill="#4a7be0"/><circle cx="512.3" cy="37.7" r="1.1" fill="#2bb0d8"/><circle cx="564.3" cy="23.5" r="0.75" fill="#39c2d8"/><circle cx="563.5" cy="47.3" r="1.1" fill="#39c2d8"/><circle cx="511.5" cy="29.5" r="0.75" fill="#4a7be0"/><circle cx="585.9" cy="29.5" r="0.75" fill="#39c2d8"/><circle cx="540.0" cy="51.0" r="1.1" fill="#2bb0d8"/><circle cx="539.2" cy="25.0" r="0.75" fill="#3b62d4"/><circle cx="592.2" cy="40.9" r="1.1" fill="#3b62d4"/><circle cx="504.5" cy="40.9" r="1.1" fill="#39c2d8"/><circle cx="564.3" cy="26.8" r="0.75" fill="#39c2d8"/><circle cx="561.1" cy="54.1" r="1.1" fill="#39c2d8"/><circle cx="511.1" cy="28.5" r="0.75" fill="#3b62d4"/><circle cx="593.4" cy="37.9" r="1.1" fill="#4a7be0"/><circle cx="514.6" cy="52.9" r="1.1" fill="#4a7be0"/><circle cx="539.4" cy="24.6" r="0.75" fill="#39c2d8"/><circle cx="579.3" cy="56.1" r="1.1" fill="#3b62d4"/><circle cx="501.0" cy="43.4" r="1.1" fill="#3b62d4"/><circle cx="591.9" cy="34.0" r="0.75" fill="#3b62d4"/><circle cx="539.7" cy="61.8" r="1.1" fill="#4a7be0"/><circle cx="518.9" cy="31.0" r="0.75" fill="#2bb0d8"/><circle cx="599.7" cy="47.3" r="1.1" fill="#4a7be0"/><circle cx="507.8" cy="57.7" r="1.1" fill="#2bb0d8"/><circle cx="558.7" cy="31.9" r="0.75" fill="#39c2d8"/><circle cx="574.8" cy="63.8" r="1.1" fill="#4a7be0"/><circle cx="503.2" cy="41.3" r="0.75" fill="#2bb0d8"/><circle cx="597.3" cy="43.9" r="0.75" fill="#4a7be0"/><circle cx="515.6" cy="64.6" r="1.1" fill="#3b62d4"/><circle cx="539.7" cy="34.2" r="0.75" fill="#4a7be0"/><circle cx="582.0" cy="66.0" r="1.1" fill="#39c2d8"/><circle cx="497.6" cy="54.0" r="1.1" fill="#39c2d8"/><circle cx="578.5" cy="37.8" r="0.75" fill="#2bb0d8"/><circle cx="548.4" cy="72.6" r="1.1" fill="#4a7be0"/><circle cx="502.0" cy="44.3" r="0.75" fill="#2bb0d8"/><circle cx="603.4" cy="55.3" r="1.1" fill="#2bb0d8"/><circle cx="507.7" cy="68.8" r="1.1" fill="#2bb0d8"/><circle cx="558.1" cy="37.3" r="0.75" fill="#3b62d4"/><circle cx="569.4" cy="75.0" r="1.1" fill="#3b62d4"/><circle cx="497.3" cy="55.1" r="0.75" fill="#3b62d4"/><circle cx="596.4" cy="53.1" r="0.75" fill="#3b62d4"/><circle cx="536.3" cy="78.7" r="1.1" fill="#2bb0d8"/><circle cx="514.2" cy="45.4" r="0.75" fill="#4a7be0"/><circle cx="598.5" cy="69.4" r="1.1" fill="#3b62d4"/><circle cx="500.6" cy="69.9" r="1.1" fill="#39c2d8"/><circle cx="585.7" cy="47.9" r="0.75" fill="#3b62d4"/><circle cx="553.7" cy="81.7" r="1.1" fill="#3b62d4"/><circle cx="508.4" cy="52.4" r="0.75" fill="#4a7be0"/><circle cx="601.2" cy="59.0" r="0.75" fill="#4a7be0"/><circle cx="513.8" cy="79.4" r="1.1" fill="#2bb0d8"/><circle cx="551.6" cy="47.2" r="0.75" fill="#4a7be0"/><circle cx="582.3" cy="83.2" r="1.1" fill="#4a7be0"/><circle cx="494.3" cy="65.8" r="0.75" fill="#4a7be0"/><circle cx="598.3" cy="59.0" r="0.75" fill="#2bb0d8"/><circle cx="548.9" cy="89.0" r="1.1" fill="#39c2d8"/><circle cx="521.2" cy="53.9" r="0.75" fill="#4a7be0"/><circle cx="600.6" cy="71.6" r="1.1" fill="#3b62d4"/><circle cx="502.3" cy="80.6" r="1.1" fill="#39c2d8"/><circle cx="557.5" cy="53.7" r="0.75" fill="#4a7be0"/><circle cx="582.1" cy="87.7" r="1.1" fill="#4a7be0"/><circle cx="496.3" cy="68.7" r="0.75" fill="#2bb0d8"/><circle cx="597.2" cy="65.1" r="0.75" fill="#2bb0d8"/><circle cx="517.2" cy="89.1" r="1.1" fill="#4a7be0"/><circle cx="541.9" cy="56.1" r="0.75" fill="#2bb0d8"/><circle cx="594.4" cy="86.7" r="1.1" fill="#4a7be0"/><circle cx="493.6" cy="78.6" r="1.1" fill="#39c2d8"/><circle cx="585.7" cy="62.9" r="0.75" fill="#39c2d8"/><circle cx="547.5" cy="96.2" r="1.1" fill="#2bb0d8"/><circle cx="497.8" cy="70.2" r="0.75" fill="#2bb0d8"/><circle cx="604.5" cy="78.1" r="0.75" fill="#2bb0d8"/><circle cx="515.3" cy="94.8" r="1.1" fill="#39c2d8"/><circle cx="548.0" cy="62.3" r="0.75" fill="#4a7be0"/><circle cx="572.6" cy="98.3" r="1.1" fill="#4a7be0"/><circle cx="496.6" cy="79.0" r="0.75" fill="#2bb0d8"/><circle cx="590.5" cy="70.9" r="0.75" fill="#4a7be0"/><circle cx="546.5" cy="103.8" r="1.1" fill="#2bb0d8"/><circle cx="527.4" cy="68.1" r="0.75" fill="#39c2d8"/><circle cx="592.2" cy="93.0" r="1.1" fill="#4a7be0"/><circle cx="502.1" cy="91.7" r="1.1" fill="#3b62d4"/><circle cx="579.5" cy="72.3" r="0.75" fill="#2bb0d8"/><circle cx="555.8" cy="103.1" r="1.1" fill="#39c2d8"/><circle cx="507.3" cy="77.9" r="0.75" fill="#3b62d4"/><circle cx="594.5" cy="80.6" r="0.75" fill="#3b62d4"/><circle cx="510.1" cy="102.1" r="1.1" fill="#3b62d4"/><circle cx="549.4" cy="72.8" r="0.75" fill="#3b62d4"/><circle cx="585.8" cy="100.1" r="1.1" fill="#4a7be0"/><circle cx="500.3" cy="91.7" r="0.75" fill="#3b62d4"/><circle cx="582.6" cy="79.7" r="0.75" fill="#4a7be0"/><circle cx="547.8" cy="108.4" r="1.1" fill="#39c2d8"/><circle cx="520.1" cy="79.8" r="0.75" fill="#39c2d8"/><circle cx="594.5" cy="94.6" r="0.75" fill="#3b62d4"/><circle cx="509.6" cy="105.2" r="1.1" fill="#3b62d4"/><circle cx="568.4" cy="80.8" r="0.75" fill="#39c2d8"/><circle cx="579.5" cy="107.5" r="1.1" fill="#3b62d4"/><circle cx="501.3" cy="94.6" r="0.75" fill="#2bb0d8"/><circle cx="596.2" cy="95.4" r="0.75" fill="#4a7be0"/><circle cx="521.6" cy="113.8" r="1.1" fill="#3b62d4"/><circle cx="539.1" cy="84.7" r="0.75" fill="#2bb0d8"/><circle cx="592.4" cy="103.1" r="0.75" fill="#4a7be0"/><circle cx="504.4" cy="105.1" r="0.75" fill="#3b62d4"/><circle cx="573.5" cy="89.1" r="0.75" fill="#39c2d8"/><circle cx="547.9" cy="114.5" r="1.1" fill="#4a7be0"/><circle cx="512.3" cy="95.4" r="0.75" fill="#2bb0d8"/><circle cx="586.2" cy="97.1" r="0.75" fill="#3b62d4"/><circle cx="514.3" cy="115.3" r="1.1" fill="#4a7be0"/><circle cx="538.4" cy="90.1" r="0.75" fill="#2bb0d8"/><circle cx="571.8" cy="117.9" r="1.1" fill="#4a7be0"/><circle cx="508.9" cy="105.6" r="0.75" fill="#3b62d4"/><circle cx="582.6" cy="101.1" r="0.75" fill="#2bb0d8"/><circle cx="552.1" cy="117.8" r="1.1" fill="#4a7be0"/><circle cx="531.6" cy="98.4" r="0.75" fill="#4a7be0"/><circle cx="581.4" cy="113.4" r="0.75" fill="#4a7be0"/><circle cx="519.7" cy="115.5" r="1.1" fill="#3b62d4"/><circle cx="551.4" cy="99.6" r="0.75" fill="#3b62d4"/><circle cx="565.7" cy="121.5" r="1.1" fill="#4a7be0"/><circle cx="519.6" cy="106.5" r="0.75" fill="#4a7be0"/><circle cx="578.7" cy="109.7" r="0.75" fill="#39c2d8"/><circle cx="537.2" cy="125.3" r="1.1" fill="#2bb0d8"/><circle cx="537.6" cy="103.3" r="0.75" fill="#4a7be0"/><circle cx="573.3" cy="118.7" r="0.75" fill="#2bb0d8"/><circle cx="522.6" cy="114.5" r="0.75" fill="#3b62d4"/><circle cx="561.6" cy="109.4" r="0.75" fill="#2bb0d8"/><circle cx="552.9" cy="124.7" r="1.1" fill="#3b62d4"/><circle cx="530.2" cy="114.9" r="0.75" fill="#39c2d8"/><circle cx="567.6" cy="115.6" r="0.75" fill="#2bb0d8"/><circle cx="536.5" cy="122.2" r="0.75" fill="#4a7be0"/><circle cx="552.0" cy="115.2" r="0.75" fill="#39c2d8"/><circle cx="554.5" cy="124.3" r="0.75" fill="#2bb0d8"/><circle cx="539.2" cy="122.6" r="0.75" fill="#39c2d8"/><circle cx="548.5" cy="119.8" r="0.75" fill="#39c2d8"/><ellipse cx="384.6" cy="415.3" rx="42" ry="2.8" fill="#e4ebf0"/><path d="M331,336.5 C320,336.5 315.7,344 315.7,352 C315.7,360 320,367.8 331,367.8 Z" fill="url(#gray)"/><path d="M438.2,336.5 C449.2,336.5 453.5,344 453.5,352 C453.5,360 449.2,367.8 438.2,367.8 Z" fill="url(#gray)"/><ellipse cx="321" cy="345" rx="3" ry="4" fill="#dfe6ea" opacity="0.8"/><rect x="382.0" y="277" width="5.2" height="15" fill="#5a6875"/><circle cx="384.6" cy="273.6" r="7.8" fill="url(#ballG)"/><circle cx="384.6" cy="350.3" r="61" fill="url(#llmOuter)"/><circle cx="385.40000000000003" cy="348.8" r="53.5" fill="url(#llmInner)"/><path d="M344,325 Q351,307 369,302.5" stroke="#fffdf2" stroke-width="7.5" stroke-linecap="round" fill="none"/><circle cx="359.0" cy="349.0" r="17.8" fill="#ffffff"/><circle cx="359.0" cy="346.4" r="17.4" fill="#e0620e"/><circle cx="359.0" cy="348.0" r="15.8" fill="url(#llmPupil)"/><circle cx="361.0" cy="349.2" r="10.5" fill="#161c29"/><path d="M369.5,351.4 A10.5,10.5 0 0 1 360.0,359.4" fill="none" stroke="#56688a" stroke-width="1" opacity="0.8"/><circle cx="355.7" cy="343.9" r="5.9" fill="#ffffff"/><circle cx="409.6" cy="349.0" r="17.8" fill="#ffffff"/><circle cx="409.6" cy="346.4" r="17.4" fill="#e0620e"/><circle cx="409.6" cy="348.0" r="15.8" fill="url(#llmPupil)"/><circle cx="411.6" cy="349.2" r="10.5" fill="#161c29"/><path d="M420.1,351.4 A10.5,10.5 0 0 1 410.6,359.4" fill="none" stroke="#56688a" stroke-width="1" opacity="0.8"/><circle cx="406.3" cy="343.9" r="5.9" fill="#ffffff"/><path d="M369.5,380.8 C371.5,392.5 398,392.5 400,380.8" stroke="#283243" stroke-width="4.8" stroke-linecap="round" fill="none"/><g transform="translate(652.7,273.5)"><path d="M-42,-9.5 L-47,-9.5 Q-51.5,-9.5 -51.5,-4 L-51.5,11 Q-51.5,16.5 -47,16.5 L-42,16.5 Z" fill="url(#vEar)" stroke="#627a7e" stroke-width="0.8"/><path d="M42,-9.5 L47,-9.5 Q51.5,-9.5 51.5,-4 L51.5,11 Q51.5,16.5 47,16.5 L42,16.5 Z" fill="url(#vEar)" stroke="#627a7e" stroke-width="0.8"/><rect x="-1.8" y="-52" width="3.6" height="9" fill="#2f4a51"/><circle cx="0" cy="-58.3" r="8.3" fill="url(#tealBall)"/><circle cx="0" cy="0" r="44.5" fill="url(#vHead)"/><ellipse cx="0" cy="-4" rx="46" ry="39.5" fill="url(#vPlate)" clip-path="url(#headClip)"/><path d="M-43.6,-9 A44.5,44.5 0 0 1 43.6,-9 C38,-16 32,-25 22,-25 C12,-25 8,-22 0,-22.5 C-8,-23 -12,-25 -22,-25 C-32,-25 -38,-16 -43.6,-9 Z" fill="url(#vCap)"/><path d="M-43.6,-9 C-38,-16 -32,-25 -22,-25 C-12,-25 -8,-23 0,-22.5 C8,-22 12,-25 22,-25 C32,-25 38,-16 43.6,-9" fill="none" stroke="#d88a1c" stroke-width="0.8"/><path d="M-37.75,3 C-37.75,-10 -29,-15.4 -19.5,-15.4 C-10,-15.4 -6,-3.4 0,-3.4 C6,-3.4 10,-15.4 19.5,-15.4 C29,-15.4 37.75,-10 37.75,3 C37.75,15 29,21.4 19.5,21.4 C10,21.4 6,17.4 0,17.4 C-6,17.4 -10,21.4 -19.5,21.4 C-29,21.4 -37.75,15 -37.75,3 Z" fill="#0c2125"/><circle cx="-22.3" cy="2.6" r="11.4" fill="url(#eyeY)"/><circle cx="-22.3" cy="2.6" r="6.9" fill="url(#pupilY)"/><circle cx="-25.5" cy="-0.8" r="2.6" fill="#ffffff"/><circle cx="-19.5" cy="5.7" r="1.1" fill="#ffffff"/><circle cx="-15.700000000000001" cy="9.4" r="1.2" fill="#fffbe8"/><circle cx="22.0" cy="2.6" r="11.4" fill="url(#eyeY)"/><circle cx="22.0" cy="2.6" r="6.9" fill="url(#pupilY)"/><circle cx="18.8" cy="-0.8" r="2.6" fill="#ffffff"/><circle cx="24.8" cy="5.7" r="1.1" fill="#ffffff"/><circle cx="28.6" cy="9.4" r="1.2" fill="#fffbe8"/><path d="M-5.5,24 Q0,29 5.5,24" stroke="#0f2a33" stroke-width="2.4" stroke-linecap="round" fill="none"/></g><g transform="translate(764.2,273.5)"><path d="M-42,-9.5 L-47,-9.5 Q-51.5,-9.5 -51.5,-4 L-51.5,11 Q-51.5,16.5 -47,16.5 L-42,16.5 Z" fill="url(#vEar)" stroke="#627a7e" stroke-width="0.8"/><path d="M42,-9.5 L47,-9.5 Q51.5,-9.5 51.5,-4 L51.5,11 Q51.5,16.5 47,16.5 L42,16.5 Z" fill="url(#vEar)" stroke="#627a7e" stroke-width="0.8"/><rect x="-1.8" y="-52" width="3.6" height="9" fill="#2f4a51"/><circle cx="0" cy="-58.3" r="8.3" fill="url(#tealBall)"/><circle cx="0" cy="0" r="44.5" fill="url(#vHead)"/><ellipse cx="0" cy="-4" rx="46" ry="39.5" fill="url(#vPlate)" clip-path="url(#headClip)"/><path d="M-43.6,-9 A44.5,44.5 0 0 1 43.6,-9 C38,-16 32,-25 22,-25 C12,-25 8,-22 0,-22.5 C-8,-23 -12,-25 -22,-25 C-32,-25 -38,-16 -43.6,-9 Z" fill="url(#vCap)"/><path d="M-43.6,-9 C-38,-16 -32,-25 -22,-25 C-12,-25 -8,-23 0,-22.5 C8,-22 12,-25 22,-25 C32,-25 38,-16 43.6,-9" fill="none" stroke="#d88a1c" stroke-width="0.8"/><path d="M-37.75,3 C-37.75,-10 -29,-15.4 -19.5,-15.4 C-10,-15.4 -6,-3.4 0,-3.4 C6,-3.4 10,-15.4 19.5,-15.4 C29,-15.4 37.75,-10 37.75,3 C37.75,15 29,21.4 19.5,21.4 C10,21.4 6,17.4 0,17.4 C-6,17.4 -10,21.4 -19.5,21.4 C-29,21.4 -37.75,15 -37.75,3 Z" fill="#0c2125"/><circle cx="-22.3" cy="2.6" r="11.4" fill="url(#eyeY)"/><circle cx="-22.3" cy="2.6" r="6.9" fill="url(#pupilY)"/><circle cx="-25.5" cy="-0.8" r="2.6" fill="#ffffff"/><circle cx="-19.5" cy="5.7" r="1.1" fill="#ffffff"/><circle cx="-15.700000000000001" cy="9.4" r="1.2" fill="#fffbe8"/><circle cx="22.0" cy="2.6" r="11.4" fill="url(#eyeY)"/><circle cx="22.0" cy="2.6" r="6.9" fill="url(#pupilY)"/><circle cx="18.8" cy="-0.8" r="2.6" fill="#ffffff"/><circle cx="24.8" cy="5.7" r="1.1" fill="#ffffff"/><circle cx="28.6" cy="9.4" r="1.2" fill="#fffbe8"/><path d="M-3.6,22.8 Q-1.5,25.2 0,26.6 Q1.5,25.2 3.6,22.8" stroke="#0f2a33" stroke-width="2.6" stroke-linecap="round" stroke-linejoin="round" fill="none"/></g><g transform="translate(652.75,375.4)"><path d="M-42,-9.5 L-47,-9.5 Q-51.5,-9.5 -51.5,-4 L-51.5,11 Q-51.5,16.5 -47,16.5 L-42,16.5 Z" fill="url(#vEar)" stroke="#627a7e" stroke-width="0.8"/><path d="M42,-9.5 L47,-9.5 Q51.5,-9.5 51.5,-4 L51.5,11 Q51.5,16.5 47,16.5 L42,16.5 Z" fill="url(#vEar)" stroke="#627a7e" stroke-width="0.8"/><circle cx="0" cy="0" r="44.5" fill="url(#vHead)"/><ellipse cx="0" cy="-4" rx="46" ry="39.5" fill="url(#vPlate)" clip-path="url(#headClip)"/><path d="M-43.6,-9 A44.5,44.5 0 0 1 43.6,-9 C38,-16 32,-25 22,-25 C12,-25 8,-22 0,-22.5 C-8,-23 -12,-25 -22,-25 C-32,-25 -38,-16 -43.6,-9 Z" fill="url(#vCap)"/><path d="M-43.6,-9 C-38,-16 -32,-25 -22,-25 C-12,-25 -8,-23 0,-22.5 C8,-22 12,-25 22,-25 C32,-25 38,-16 43.6,-9" fill="none" stroke="#d88a1c" stroke-width="0.8"/><path d="M-37.75,3 C-37.75,-10 -29,-15.4 -19.5,-15.4 C-10,-15.4 -6,-3.4 0,-3.4 C6,-3.4 10,-15.4 19.5,-15.4 C29,-15.4 37.75,-10 37.75,3 C37.75,15 29,21.4 19.5,21.4 C10,21.4 6,17.4 0,17.4 C-6,17.4 -10,21.4 -19.5,21.4 C-29,21.4 -37.75,15 -37.75,3 Z" fill="#0c2125"/><circle cx="-22.3" cy="2.6" r="11.4" fill="url(#eyeB)"/><circle cx="-22.3" cy="2.6" r="7.6" fill="url(#pupilB)"/><circle cx="-25.5" cy="-0.8" r="2.6" fill="#ffffff"/><circle cx="-19.5" cy="5.7" r="1.1" fill="#ffffff"/><circle cx="-15.700000000000001" cy="9.4" r="1.2" fill="#fffbe8"/><circle cx="22.0" cy="2.6" r="11.4" fill="url(#eyeB)"/><circle cx="22.0" cy="2.6" r="7.6" fill="url(#pupilB)"/><circle cx="18.8" cy="-0.8" r="2.6" fill="#ffffff"/><circle cx="24.8" cy="5.7" r="1.1" fill="#ffffff"/><circle cx="28.6" cy="9.4" r="1.2" fill="#fffbe8"/><path d="M-5.5,24 Q0,29 5.5,24" stroke="#0f2a33" stroke-width="2.4" stroke-linecap="round" fill="none"/></g><g transform="translate(764.0,375.1)"><path d="M-42,-9.5 L-47,-9.5 Q-51.5,-9.5 -51.5,-4 L-51.5,11 Q-51.5,16.5 -47,16.5 L-42,16.5 Z" fill="url(#vEar)" stroke="#627a7e" stroke-width="0.8"/><path d="M42,-9.5 L47,-9.5 Q51.5,-9.5 51.5,-4 L51.5,11 Q51.5,16.5 47,16.5 L42,16.5 Z" fill="url(#vEar)" stroke="#627a7e" stroke-width="0.8"/><circle cx="0" cy="0" r="44.5" fill="url(#vHead)"/><ellipse cx="0" cy="-4" rx="46" ry="39.5" fill="url(#vPlate)" clip-path="url(#headClip)"/><path d="M-43.6,-9 A44.5,44.5 0 0 1 43.6,-9 C38,-16 32,-25 22,-25 C12,-25 8,-22 0,-22.5 C-8,-23 -12,-25 -22,-25 C-32,-25 -38,-16 -43.6,-9 Z" fill="url(#vCap)"/><path d="M-43.6,-9 C-38,-16 -32,-25 -22,-25 C-12,-25 -8,-23 0,-22.5 C8,-22 12,-25 22,-25 C32,-25 38,-16 43.6,-9" fill="none" stroke="#d88a1c" stroke-width="0.8"/><path d="M-37.75,3 C-37.75,-10 -29,-15.4 -19.5,-15.4 C-10,-15.4 -6,-3.4 0,-3.4 C6,-3.4 10,-15.4 19.5,-15.4 C29,-15.4 37.75,-10 37.75,3 C37.75,15 29,21.4 19.5,21.4 C10,21.4 6,17.4 0,17.4 C-6,17.4 -10,21.4 -19.5,21.4 C-29,21.4 -37.75,15 -37.75,3 Z" fill="#0c2125"/><circle cx="-22.3" cy="2.6" r="11.4" fill="url(#eyeB)"/><circle cx="-22.3" cy="2.6" r="7.6" fill="url(#pupilB)"/><circle cx="-25.5" cy="-0.8" r="2.6" fill="#ffffff"/><circle cx="-19.5" cy="5.7" r="1.1" fill="#ffffff"/><circle cx="-15.700000000000001" cy="9.4" r="1.2" fill="#fffbe8"/><circle cx="22.0" cy="2.6" r="11.4" fill="url(#eyeB)"/><circle cx="22.0" cy="2.6" r="7.6" fill="url(#pupilB)"/><circle cx="18.8" cy="-0.8" r="2.6" fill="#ffffff"/><circle cx="24.8" cy="5.7" r="1.1" fill="#ffffff"/><circle cx="28.6" cy="9.4" r="1.2" fill="#fffbe8"/><path d="M-5.5,24 Q0,29 5.5,24" stroke="#0f2a33" stroke-width="2.4" stroke-linecap="round" fill="none"/></g><path d="M936.5,330 L1066.5,330 L1066.5,386 Q1066.5,414.7 1038,414.7 L965,414.7 Q936.5,414.7 936.5,386 Z" fill="#0a1628"/><path d="M941,384 Q943,405 960,411" stroke="#2c4661" stroke-width="2.6" fill="none"/><path d="M1062,384 Q1060,405 1043,411" stroke="#2c4661" stroke-width="2.6" fill="none"/><path d="M931,374 L931,336 A71,71.3 0 0 1 1073,336 L1073,374 L1066.5,374 L1066.5,336 A64.5,65.5 0 0 0 937.5,336 L937.5,374 Z" fill="#1f3a56"/><path d="M937.5,380 L937.5,336 A64.5,65.5 0 0 1 1066.5,336 L1066.5,380 Z" fill="#0a1628"/><path d="M937.5,330 L937.5,336 A64.5,65.5 0 0 1 1066.5,336 L1066.5,330 Z" fill="url(#girlHair)"/><path d="M938,333 A64.5,65.5 0 0 1 1066,333" fill="none" stroke="#a08478" stroke-width="1.2" opacity="0.7"/><path d="M967.4,281.5 Q1002,264 1035.5,281.5" stroke="#ffffff" stroke-width="1.6" fill="none"/><rect x="985.6" y="400" width="31.7" height="14.7" fill="#de5a22"/><rect x="985.6" y="406" width="31.7" height="3" fill="#c64a1a" opacity="0.6"/><ellipse cx="940.2" cy="361.2" rx="13" ry="18.6" fill="#f9c68a"/><ellipse cx="941.7" cy="361.7" rx="7" ry="11" fill="#e46a38"/><ellipse cx="943.2" cy="362" rx="3.5" ry="7" fill="#c54f26"/><ellipse cx="1063.8" cy="361.2" rx="13" ry="18.6" fill="#f9c68a"/><ellipse cx="1062.3" cy="361.7" rx="7" ry="11" fill="#e46a38"/><ellipse cx="1060.8" cy="362" rx="3.5" ry="7" fill="#c54f26"/><path d="M945.8,334 C956,322 972,306 985.3,281 C1000,300 1030,318 1058,330 L1058,352 C1058,386 1034,407.5 1001.5,407.5 C969,407.5 945.8,386 945.8,352 Z" fill="#ec8f50"/><path d="M946.5,334 C956,322 972,306 985.3,282 C1000,300 1030,318 1057.5,330.5 L1057.5,350 C1057.5,382 1034,402 1001.5,402 C969,402 946.5,382 946.5,350 Z" fill="url(#girlSkin)"/><ellipse cx="958" cy="364" rx="10" ry="7" fill="#f6a680" opacity="0.45"/><ellipse cx="1045" cy="364" rx="10" ry="7" fill="#f6a680" opacity="0.45"/><path d="M937.3,331.5 C950,325 968,316 975.3,302.7 C980,294 983,284 985.5,280.5 C990,290 998,300 1008.8,306 C1020,314 1040,323 1066,330.5" stroke="#0a1628" stroke-width="4.6" fill="none" stroke-linejoin="round" stroke-linecap="round"/><ellipse cx="975.0" cy="344.8" rx="14.4" ry="15.6" fill="#0a1628"/><circle cx="970.9" cy="343.1" r="4.4" fill="#ffffff"/><ellipse cx="1027.7" cy="344.8" rx="14.4" ry="15.6" fill="#0a1628"/><circle cx="1023.6" cy="343.1" r="4.4" fill="#ffffff"/><path d="M954.8,344 Q956.5,337 963,333.5" stroke="#0a1628" stroke-width="4.2" fill="none" stroke-linecap="round"/><path d="M1048.2,344 Q1046.5,337 1040,333.5" stroke="#0a1628" stroke-width="4.2" fill="none" stroke-linecap="round"/><ellipse cx="1001.5" cy="364.4" rx="4.8" ry="3.2" fill="#a63a1e"/><path d="M988.5,376.5 Q1001.5,393.5 1014.5,376.5" stroke="#221a2a" stroke-width="4" stroke-linecap="round" fill="none"/><ellipse cx="128.7" cy="650.6" rx="52" ry="2.8" fill="#dbe5ed"/><ellipse cx="59.1" cy="576.2" rx="18" ry="23.5" fill="#0f2c42"/><ellipse cx="200.3" cy="576.2" rx="18" ry="23.5" fill="#0f2c42"/><ellipse cx="60.5" cy="576.7" rx="9.5" ry="14.3" fill="#e8903e"/><ellipse cx="63.5" cy="577.5" rx="5.5" ry="9.5" fill="#b9551c"/><ellipse cx="198.9" cy="576.7" rx="9.5" ry="14.3" fill="#e8903e"/><ellipse cx="195.9" cy="577.5" rx="5.5" ry="9.5" fill="#b9551c"/><path d="M197.90,569.00 L197.76,574.93 L197.35,580.27 L196.67,585.38 L195.72,590.30 L194.51,595.06 L193.03,599.65 L191.29,604.07 L189.31,608.31 L187.08,612.35 L184.61,616.20 L181.91,619.84 L178.99,623.26 L175.86,626.44 L172.53,629.39 L169.01,632.08 L165.30,634.52 L161.42,636.69 L157.37,638.58 L153.17,640.20 L148.81,641.52 L144.30,642.56 L139.62,643.30 L134.73,643.75 L129.30,643.90 L123.87,643.75 L118.98,643.30 L114.30,642.56 L109.79,641.52 L105.43,640.20 L101.23,638.58 L97.18,636.69 L93.30,634.52 L89.59,632.08 L86.07,629.39 L82.74,626.44 L79.61,623.26 L76.69,619.84 L73.99,616.20 L71.52,612.35 L69.29,608.31 L67.31,604.07 L65.57,599.65 L64.09,595.06 L62.88,590.30 L61.93,585.38 L61.25,580.27 L60.84,574.93 L60.70,569.00 L60.84,563.07 L61.25,557.73 L61.93,552.62 L62.88,547.70 L64.09,542.94 L65.57,538.35 L67.31,533.93 L69.29,529.69 L71.52,525.65 L73.99,521.80 L76.69,518.16 L79.61,514.74 L82.74,511.56 L86.07,508.61 L89.59,505.92 L93.30,503.48 L97.18,501.31 L101.23,499.42 L105.43,497.80 L109.79,496.48 L114.30,495.44 L118.98,494.70 L123.87,494.25 L129.30,494.10 L134.73,494.25 L139.62,494.70 L144.30,495.44 L148.81,496.48 L153.17,497.80 L157.37,499.42 L161.42,501.31 L165.30,503.48 L169.01,505.92 L172.53,508.61 L175.86,511.56 L178.99,514.74 L181.91,518.16 L184.61,521.80 L187.08,525.65 L189.31,529.69 L191.29,533.93 L193.03,538.35 L194.51,542.94 L195.72,547.70 L196.67,552.62 L197.35,557.73 L197.76,563.07 Z" fill="#0f2c42"/><path d="M189.10,568.60 L188.98,573.84 L188.62,578.56 L188.03,583.07 L187.20,587.43 L186.14,591.63 L184.85,595.69 L183.34,599.59 L181.61,603.34 L179.67,606.92 L177.51,610.32 L175.16,613.54 L172.62,616.56 L169.89,619.37 L166.99,621.98 L163.91,624.36 L160.68,626.51 L157.30,628.43 L153.77,630.10 L150.11,631.53 L146.31,632.70 L142.38,633.62 L138.30,634.27 L134.03,634.67 L129.30,634.80 L124.57,634.67 L120.30,634.27 L116.22,633.62 L112.29,632.70 L108.49,631.53 L104.83,630.10 L101.30,628.43 L97.92,626.51 L94.69,624.36 L91.61,621.98 L88.71,619.37 L85.98,616.56 L83.44,613.54 L81.09,610.32 L78.93,606.92 L76.99,603.34 L75.26,599.59 L73.75,595.69 L72.46,591.63 L71.40,587.43 L70.57,583.07 L69.98,578.56 L69.62,573.84 L69.50,568.60 L69.62,563.36 L69.98,558.64 L70.57,554.13 L71.40,549.77 L72.46,545.57 L73.75,541.51 L75.26,537.61 L76.99,533.86 L78.93,530.28 L81.09,526.88 L83.44,523.66 L85.98,520.64 L88.71,517.83 L91.61,515.22 L94.69,512.84 L97.92,510.69 L101.30,508.77 L104.83,507.10 L108.49,505.67 L112.29,504.50 L116.22,503.58 L120.30,502.93 L124.57,502.53 L129.30,502.40 L134.03,502.53 L138.30,502.93 L142.38,503.58 L146.31,504.50 L150.11,505.67 L153.77,507.10 L157.30,508.77 L160.68,510.69 L163.91,512.84 L166.99,515.22 L169.89,517.83 L172.62,520.64 L175.16,523.66 L177.51,526.88 L179.67,530.28 L181.61,533.86 L183.34,537.61 L184.85,541.51 L186.14,545.57 L187.20,549.77 L188.03,554.13 L188.62,558.64 L188.98,563.36 Z" fill="#ec9440"/><path d="M185.80,565.50 L185.68,570.08 L185.34,574.34 L184.77,578.47 L183.96,582.48 L182.94,586.37 L181.70,590.14 L180.24,593.78 L178.57,597.28 L176.69,600.64 L174.62,603.83 L172.36,606.86 L169.92,609.71 L167.30,612.37 L164.52,614.83 L161.58,617.09 L158.50,619.13 L155.28,620.94 L151.93,622.53 L148.47,623.89 L144.90,625.00 L141.21,625.87 L137.43,626.50 L133.51,626.87 L129.30,627.00 L125.09,626.87 L121.17,626.50 L117.39,625.87 L113.70,625.00 L110.13,623.89 L106.67,622.53 L103.32,620.94 L100.10,619.13 L97.02,617.09 L94.08,614.83 L91.30,612.37 L88.68,609.71 L86.24,606.86 L83.98,603.83 L81.91,600.64 L80.03,597.28 L78.36,593.78 L76.90,590.14 L75.66,586.37 L74.64,582.48 L73.83,578.47 L73.26,574.34 L72.92,570.08 L72.80,565.50 L72.92,560.92 L73.26,556.66 L73.83,552.53 L74.64,548.52 L75.66,544.63 L76.90,540.86 L78.36,537.22 L80.03,533.72 L81.91,530.36 L83.98,527.17 L86.24,524.14 L88.68,521.29 L91.30,518.63 L94.08,516.17 L97.02,513.91 L100.10,511.87 L103.32,510.06 L106.67,508.47 L110.13,507.11 L113.70,506.00 L117.39,505.13 L121.17,504.50 L125.09,504.13 L129.30,504.00 L133.51,504.13 L137.43,504.50 L141.21,505.13 L144.90,506.00 L148.47,507.11 L151.93,508.47 L155.28,510.06 L158.50,511.87 L161.58,513.91 L164.52,516.17 L167.30,518.63 L169.92,521.29 L172.36,524.14 L174.62,527.17 L176.69,530.36 L178.57,533.72 L180.24,537.22 L181.70,540.86 L182.94,544.63 L183.96,548.52 L184.77,552.53 L185.34,556.66 L185.68,560.92 Z" fill="url(#userSkin)"/><path d="M91.5,525.5 Q97,517 105.7,514.5" stroke="#fffbe8" stroke-width="3" stroke-linecap="round" fill="none" opacity="0.9"/><path d="M153,514.5 Q161.5,517 167,525.5" stroke="#fffbe8" stroke-width="3" stroke-linecap="round" fill="none" opacity="0.9"/><ellipse cx="120" cy="510.8" rx="3.6" ry="2.1" fill="#fffbe8" opacity="0.9"/><path d="M91,542.6 Q98,535.5 106.5,538.6" stroke="#0f2c42" stroke-width="7.4" stroke-linecap="round" fill="none"/><path d="M152,538.6 Q160.5,535.5 167.5,542.6" stroke="#0f2c42" stroke-width="7.4" stroke-linecap="round" fill="none"/><circle cx="100.5" cy="568" r="15.6" fill="#0f2c42"/><circle cx="100.2" cy="564.7" r="6.2" fill="#ffffff"/><circle cx="157.3" cy="568" r="15.6" fill="#0f2c42"/><circle cx="157.0" cy="564.7" r="6.2" fill="#ffffff"/><path d="M113.5,602 C116,612.5 143,612.5 145.5,602" stroke="#0f2c42" stroke-width="6.6" stroke-linecap="round" fill="none"/>
<path d="M300.16,478.53 A13.43,13.43 0 0 1 313.59,465.1 L493.07,465.1 A13.43,13.43 0 0 1 493.07,491.96 L479.64,491.96 L479.64,666.57 A13.43,13.43 0 0 1 466.21,680 L286.73,680 A13.43,13.43 0 0 1 286.73,653.14 L300.16,653.14 Z" fill="#eeeeee"/><path d="M327.02,478.53 A13.43,13.43 0 0 1 313.59,491.96 A6.72,6.72 0 0 1 313.59,478.53 Z M300.16,666.57 A13.43,13.43 0 1 1 286.73,653.14 A6.72,6.72 0 0 1 286.73,666.57 Z" fill="#bfbfbf"/><path d="M300.16,478.53 A13.43,13.43 0 0 1 313.59,465.1 L493.07,465.1 A13.43,13.43 0 0 1 493.07,491.96 L479.64,491.96 L479.64,666.57 A13.43,13.43 0 0 1 466.21,680 L286.73,680 A13.43,13.43 0 0 1 286.73,653.14 L300.16,653.14 Z M313.59,465.1 A13.43,13.43 0 0 1 313.59,491.96 A6.72,6.72 0 0 1 313.59,478.53 L327.02,478.53 M313.59,491.96 L479.64,491.96 M300.16,653.14 L300.16,666.57 M286.73,653.14 A6.72,6.72 0 0 1 286.73,666.57 L300.16,666.57 M300.16,666.57 A13.43,13.43 0 0 1 286.73,680" fill="none" stroke="#595959" stroke-width="1.5" stroke-linejoin="round"/>
<path d="M622.1,481.25 A13.05,13.05 0 0 1 635.15,468.2 L816.05,468.2 A13.05,13.05 0 0 1 816.05,494.3 L803,494.3 L803,663.95 A13.05,13.05 0 0 1 789.95,677 L609.05,677 A13.05,13.05 0 0 1 609.05,650.9 L622.1,650.9 Z" fill="#eeeeee"/><path d="M648.2,481.25 A13.05,13.05 0 0 1 635.15,494.3 A6.53,6.53 0 0 1 635.15,481.25 Z M622.1,663.95 A13.05,13.05 0 1 1 609.05,650.9 A6.53,6.53 0 0 1 609.05,663.95 Z" fill="#bfbfbf"/><path d="M622.1,481.25 A13.05,13.05 0 0 1 635.15,468.2 L816.05,468.2 A13.05,13.05 0 0 1 816.05,494.3 L803,494.3 L803,663.95 A13.05,13.05 0 0 1 789.95,677 L609.05,677 A13.05,13.05 0 0 1 609.05,650.9 L622.1,650.9 Z M635.15,468.2 A13.05,13.05 0 0 1 635.15,494.3 A6.53,6.53 0 0 1 635.15,481.25 L648.2,481.25 M635.15,494.3 L803,494.3 M622.1,650.9 L622.1,663.95 M609.05,650.9 A6.53,6.53 0 0 1 609.05,663.95 L622.1,663.95 M622.1,663.95 A13.05,13.05 0 0 1 609.05,677" fill="none" stroke="#595959" stroke-width="1.5" stroke-linejoin="round"/>
<path d="M911.08,481.24 A13.04,13.04 0 0 1 924.11,468.2 L1105.26,468.2 A13.04,13.04 0 0 1 1105.26,494.27 L1092.22,494.27 L1092.22,663.76 A13.04,13.04 0 0 1 1079.19,676.8 L898.04,676.8 A13.04,13.04 0 0 1 898.04,650.72 L911.08,650.72 Z" fill="#eeeeee"/><path d="M937.15,481.24 A13.04,13.04 0 0 1 924.11,494.27 A6.52,6.52 0 0 1 924.11,481.24 Z M911.08,663.76 A13.04,13.04 0 1 1 898.04,650.72 A6.52,6.52 0 0 1 898.04,663.76 Z" fill="#bfbfbf"/><path d="M911.08,481.24 A13.04,13.04 0 0 1 924.11,468.2 L1105.26,468.2 A13.04,13.04 0 0 1 1105.26,494.27 L1092.22,494.27 L1092.22,663.76 A13.04,13.04 0 0 1 1079.19,676.8 L898.04,676.8 A13.04,13.04 0 0 1 898.04,650.72 L911.08,650.72 Z M924.11,468.2 A13.04,13.04 0 0 1 924.11,494.27 A6.52,6.52 0 0 1 924.11,481.24 L937.15,481.24 M924.11,494.27 L1092.22,494.27 M911.08,650.72 L911.08,663.76 M898.04,650.72 A6.52,6.52 0 0 1 898.04,663.76 L911.08,663.76 M911.08,663.76 A13.04,13.04 0 0 1 898.04,676.8" fill="none" stroke="#595959" stroke-width="1.5" stroke-linejoin="round"/>
<path d="M1200.4,480.95 A13.05,13.05 0 0 1 1213.45,467.9 L1393.95,467.9 A13.05,13.05 0 0 1 1393.95,494 L1380.9,494 L1380.9,663.65 A13.05,13.05 0 0 1 1367.85,676.7 L1187.35,676.7 A13.05,13.05 0 0 1 1187.35,650.6 L1200.4,650.6 Z" fill="#eeeeee"/><path d="M1226.5,480.95 A13.05,13.05 0 0 1 1213.45,494 A6.53,6.53 0 0 1 1213.45,480.95 Z M1200.4,663.65 A13.05,13.05 0 1 1 1187.35,650.6 A6.53,6.53 0 0 1 1187.35,663.65 Z" fill="#bfbfbf"/><path d="M1200.4,480.95 A13.05,13.05 0 0 1 1213.45,467.9 L1393.95,467.9 A13.05,13.05 0 0 1 1393.95,494 L1380.9,494 L1380.9,663.65 A13.05,13.05 0 0 1 1367.85,676.7 L1187.35,676.7 A13.05,13.05 0 0 1 1187.35,650.6 L1200.4,650.6 Z M1213.45,467.9 A13.05,13.05 0 0 1 1213.45,494 A6.53,6.53 0 0 1 1213.45,480.95 L1226.5,480.95 M1213.45,494 L1380.9,494 M1200.4,650.6 L1200.4,663.65 M1187.35,650.6 A6.53,6.53 0 0 1 1187.35,663.65 L1200.4,663.65 M1200.4,663.65 A13.05,13.05 0 0 1 1187.35,676.7" fill="none" stroke="#595959" stroke-width="1.5" stroke-linejoin="round"/>
<line x1="240.90" y1="572.80" x2="287.88" y2="572.80" stroke="#595959" stroke-width="1.6"/><path d="M299.40,572.80 L285.00,578.40 L285.00,567.20 Z" fill="#595959"/>
<line x1="479.60" y1="572.70" x2="609.88" y2="572.70" stroke="#595959" stroke-width="1.6"/><path d="M621.40,572.70 L607.00,578.30 L607.00,567.10 Z" fill="#595959"/>
<line x1="803.00" y1="572.30" x2="898.88" y2="572.30" stroke="#595959" stroke-width="1.6"/><path d="M910.40,572.30 L896.00,577.90 L896.00,566.70 Z" fill="#595959"/>
<line x1="1092.20" y1="572.30" x2="1188.08" y2="572.21" stroke="#595959" stroke-width="1.6"/><path d="M1199.60,572.20 L1185.21,577.81 L1185.19,566.61 Z" fill="#595959"/>
<line x1="384.40" y1="438.40" x2="387.35" y2="453.20" stroke="#595959" stroke-width="1.6"/><path d="M389.60,464.50 L381.29,451.47 L392.28,449.28 Z" fill="#595959"/>
<line x1="712.60" y1="433.10" x2="712.60" y2="456.08" stroke="#595959" stroke-width="1.6"/><path d="M712.60,467.60 L707.00,453.20 L718.20,453.20 Z" fill="#595959"/>
<line x1="1002.10" y1="419.30" x2="1001.80" y2="455.98" stroke="#595959" stroke-width="1.6"/><path d="M1001.70,467.50 L996.22,453.05 L1007.42,453.15 Z" fill="#595959"/>
<line x1="425.85" y1="285.09" x2="537.55" y2="159.41" stroke="#595959" stroke-width="1.6"/><path d="M545.20,150.80 L539.82,165.28 L531.45,157.84 Z" fill="#595959"/><path d="M418.20,293.70 L431.95,286.66 L423.58,279.22 Z" fill="#595959"/>
<line x1="555.13" y1="156.65" x2="689.37" y2="235.75" stroke="#595959" stroke-width="1.6"/><path d="M699.30,241.60 L684.05,239.11 L689.74,229.47 Z" fill="#595959"/><path d="M545.20,150.80 L554.76,162.93 L560.45,153.29 Z" fill="#595959"/>
<g font-family="Liberation Sans, sans-serif">
<text transform="matrix(1.0843 0 0 1 620.45 72.90)" font-size="38.95" fill="#12304c" stroke="#fff" stroke-width="1.0">The Internet</text>
<text transform="matrix(1.0392 0 0 1 185.97 247.20)" font-size="39.10" fill="#12304c" stroke="#fff" stroke-width="1.0">LLM Validator</text>
<text transform="matrix(1.0380 0 0 1 891.83 238.20)" font-size="39.24" fill="#12304c" stroke="#fff" stroke-width="1.0">Can Appeal</text>
<text transform="matrix(1.1228 0 0 1 50.44 413.70)" font-size="38.52" fill="#12304c" stroke="#fff" stroke-width="1.0">Submits</text>
<text transform="matrix(0.9191 0 0 1 105.70 458.90)" font-size="38.52" fill="#12304c" stroke="#fff" stroke-width="1.0">TX</text>
<text transform="matrix(1.0624 0 0 1 344.80 572.80)" font-size="29.80" fill="#000" stroke="#eeeeee" stroke-width="0.6">Result</text>
<text transform="matrix(1.0850 0 0 1 321.79 606.60)" font-size="29.36" fill="#000" stroke="#eeeeee" stroke-width="0.6">Proposed</text>
<text transform="matrix(1.0661 0 0 1 667.29 572.80)" font-size="29.80" fill="#000" stroke="#eeeeee" stroke-width="0.6">Result</text>
<text transform="matrix(1.0818 0 0 1 645.46 606.60)" font-size="29.80" fill="#000" stroke="#eeeeee" stroke-width="0.6">Validated</text>
<text transform="matrix(1.0960 0 0 1 933.29 589.70)" font-size="29.94" fill="#000" stroke="#eeeeee" stroke-width="0.6">Accepted</text>
<text transform="matrix(1.0653 0 0 1 1256.07 589.80)" font-size="30.09" fill="#000" stroke="#eeeeee" stroke-width="0.6">Final</text>
<text transform="matrix(1.0187 0 0 1 157.50 71.60)" font-size="34.59" font-weight="bold" fill="#183a56" stroke="#fff" stroke-width="0.5">GenLayer</text>
<text transform="matrix(1.0909 0 0 1 160.29 89.70)" font-size="9.01" font-weight="bold" fill="#183a56">The Intelligent Contract Network</text>
</g>
<g fill="none" stroke="#183a56"><circle cx="110.5" cy="63.2" r="33.4" stroke-width="3.8"/><rect x="96.5" y="41.8" width="28.1" height="28" rx="4" stroke-width="3.4"/><path d="M88.2,61 V74.6 Q88.2,77.6 91.2,77.6 H103.3 Q106.3,77.6 106.3,80.6 V86.8" stroke-width="3.6"/><path d="M133,61 V74.6 Q133,77.6 130,77.6 H117.7 Q114.7,77.6 114.7,80.6 V86.8" stroke-width="3.6"/></g>
</svg>
</body></html>
